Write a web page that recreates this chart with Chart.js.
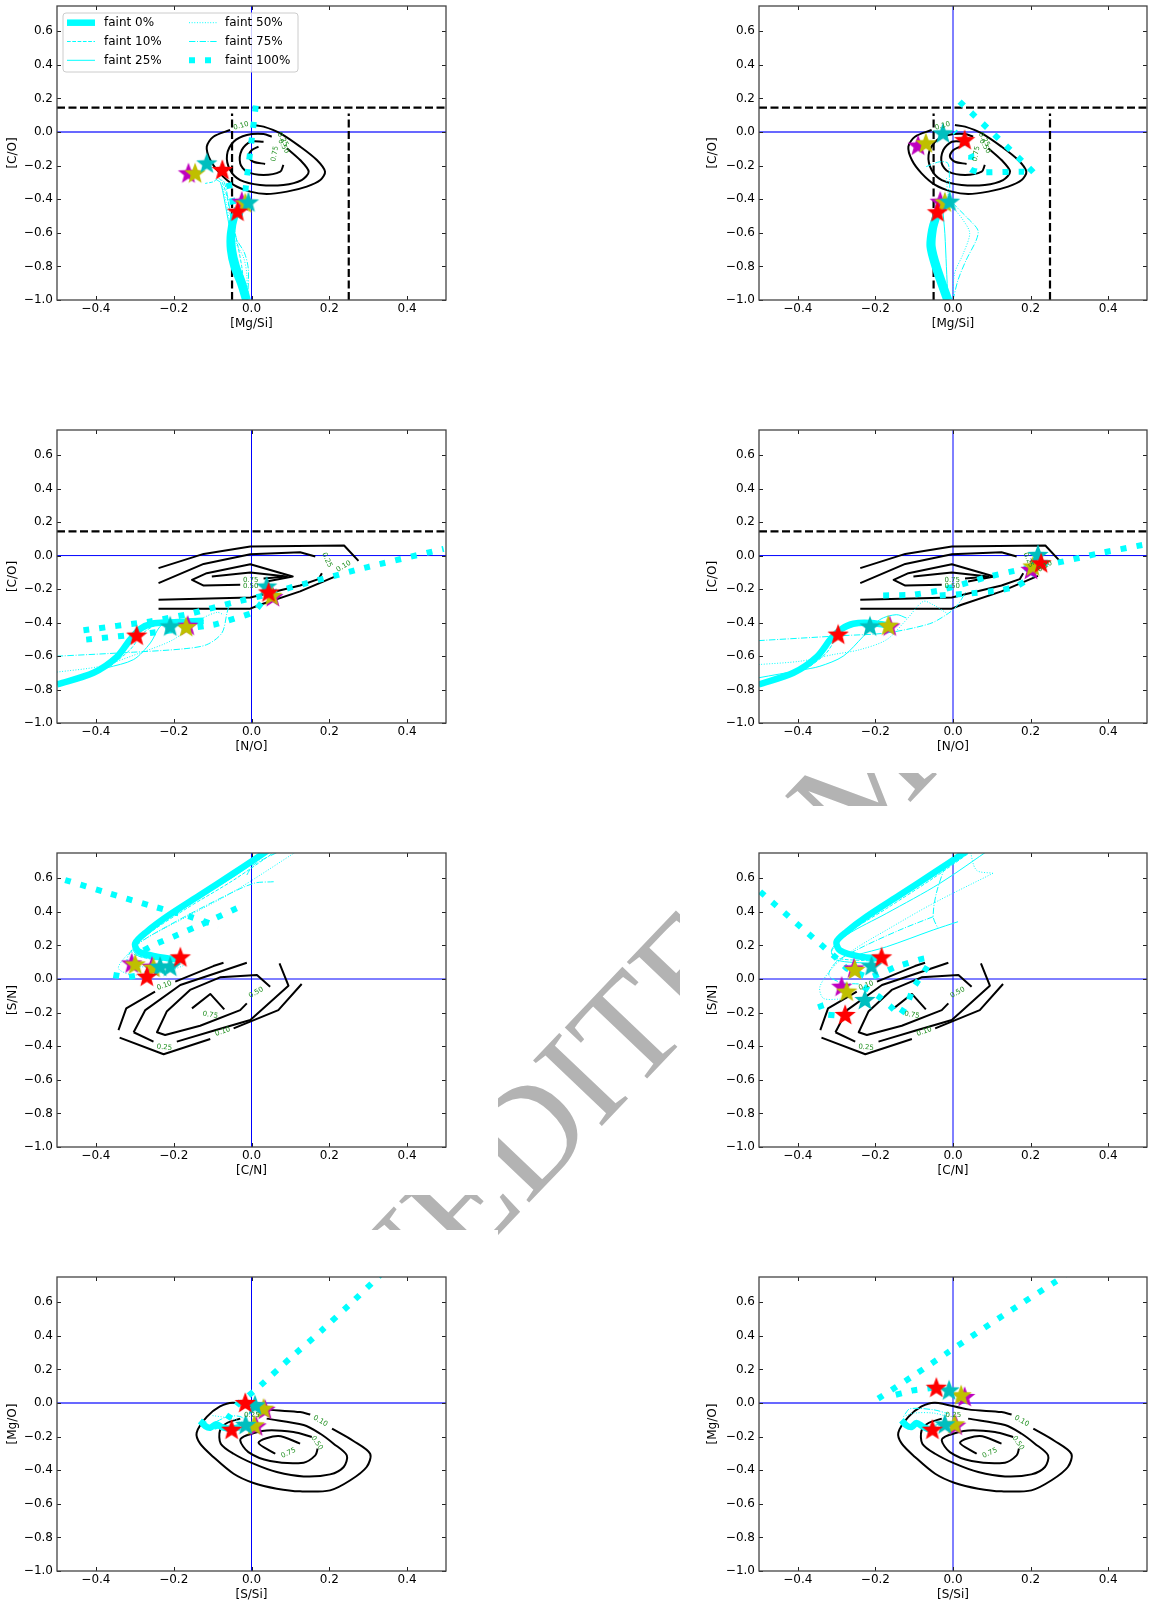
<!DOCTYPE html>
<html>
<head>
<meta charset="utf-8">
<script src="https://cdn.jsdelivr.net/npm/chart.js@4.4.0/dist/chart.umd.min.js"></script>
<style>
body{margin:0;width:1152px;height:1606px;position:relative;overflow:hidden;background:#fff}
#wm{position:absolute;left:873px;top:771px;transform:translate(-50%,-50%) rotate(-46.4deg);font:145px "Liberation Serif","DejaVu Serif",serif;line-height:1;color:#b3b3b3;white-space:nowrap;z-index:0}
.panel{position:absolute;background:#fff;z-index:1}
.panel canvas{display:block}
</style>
</head>
<body>
<div id="wm">UNEDITED MANUSCRIPT</div>
<script>
// ticks and legend
const xTicks = [-0.4, -0.2, 0.0, 0.2, 0.4];
const yTicks = [-1.0, -0.8, -0.6, -0.4, -0.2, 0.0, 0.2, 0.4, 0.6];
const legendLabels = ['faint 0%', 'faint 10%', 'faint 25%', 'faint 50%', 'faint 75%', 'faint 100%'];

// reference lines
const zeroV = [[0, -1], [0, 0.75]];
const zeroH = [[-0.5, 0], [0.5, 0]];
const coLimit = [[-0.5, 0.145], [0.5, 0.145]];
const mgsiLow = [[-0.05, -1], [-0.05, 0.11]];
const mgsiHigh = [[0.25, -1], [0.25, 0.11]];

// row 1 contours [Mg/Si] vs [C/O]
const mgsi_c10 = [[-0.055,0.012],[-0.098,-0.028],[-0.115,-0.087],[-0.106,-0.167],[-0.081,-0.246],[-0.046,-0.315],[-0.003,-0.355],[0.039,-0.369],[0.091,-0.355],[0.142,-0.325],[0.177,-0.286],[0.189,-0.236],[0.168,-0.167],[0.125,-0.087],[0.074,-0.008],[0.031,0.032],[0.005,0.042]];
const mgsi_c25 = [[0.052,-0.028],[0.031,-0.012],[-0.012,-0.018],[-0.046,-0.058],[-0.063,-0.137],[-0.055,-0.226],[-0.029,-0.286],[0.022,-0.315],[0.082,-0.315],[0.129,-0.286],[0.147,-0.236],[0.125,-0.167],[0.091,-0.097]];
const mgsi_c50 = [[0.031,-0.058],[-0.003,-0.058],[-0.025,-0.107],[-0.029,-0.187],[-0.012,-0.236],[0.031,-0.256],[0.074,-0.236],[0.082,-0.196]];
const mgsi_c75 = [[0.018,-0.087],[0.001,-0.107],[-0.008,-0.147],[0.005,-0.177],[0.035,-0.190]];
const mgsi_labels = [[-0.027,0.036,'0.10',15],[0.080,-0.045,'0.25',-60],[0.082,-0.085,'0.50',-60],[0.060,-0.130,'0.75',80]];

// row 2 contours [N/O] vs [C/O]
const no_c10a = [[-0.239,-0.075],[-0.123,0.010],[-0.003,0.054],[0.238,0.060],[0.275,-0.032]];
const no_c10b = [[-0.239,-0.317],[-0.003,-0.317],[0.022,-0.294],[0.125,-0.214],[0.219,-0.121]];
const no_c25a = [[-0.239,-0.165],[-0.123,-0.050],[-0.003,0.008],[0.125,0.020],[0.164,-0.006]];
const no_c25b = [[-0.239,-0.264],[-0.003,-0.250],[0.125,-0.179],[0.172,-0.141],[0.181,-0.105]];
const no_c50 = [[0.039,-0.155],[0.106,-0.125],[-0.003,-0.052],[-0.115,-0.105],[-0.153,-0.145],[-0.123,-0.179],[-0.029,-0.175]];
const no_c75 = [[-0.102,-0.125],[-0.003,-0.101],[0.091,-0.125],[0.031,-0.137]];
const no_labels = [[0.194,-0.026,'0.25',-65],[0.237,-0.065,'0.10',30],[-0.002,-0.150,'0.75',0],[-0.002,-0.182,'0.50',0]];

// row 3 contours [C/N] vs [S/N]
const cn_c10a = [[-0.342,-0.304],[-0.322,-0.175],[-0.248,-0.075]];
const cn_c10b = [[-0.196,-0.016],[-0.098,0.077],[-0.072,0.097]];
const cn_c10c = [[-0.339,-0.349],[-0.226,-0.448],[-0.106,-0.357]];
const cn_c10d = [[-0.046,-0.294],[0.069,-0.185],[0.129,-0.030]];
const cn_c25a = [[-0.303,-0.317],[-0.273,-0.185],[-0.183,-0.036],[-0.098,0.030],[-0.012,0.097]];
const cn_c25b = [[-0.303,-0.317],[-0.252,-0.373]];
const cn_c25c = [[-0.192,-0.373],[-0.098,-0.308],[-0.003,-0.244],[0.095,-0.040],[0.072,0.093]];
const cn_c50 = [[-0.012,-0.145],[-0.029,-0.185],[-0.132,-0.278],[-0.222,-0.333],[-0.243,-0.317],[-0.218,-0.194],[-0.158,-0.065],[-0.081,0.010],[0.014,0.024],[0.048,-0.046]];
const cn_c75 = [[-0.153,-0.175],[-0.106,-0.089],[-0.070,-0.181]];
const cn_labels = [[-0.224,-0.040,'0.10',20],[0.012,-0.081,'0.50',30],[-0.106,-0.214,'0.75',-10],[-0.074,-0.313,'0.10',20],[-0.224,-0.407,'0.25',-5]];

// row 4 contours [S/Si] vs [Mg/O]
const ssi_c10 = [[0.151,-0.069],[0.125,-0.054],[0.039,-0.038],[-0.046,0.002],[-0.081,-0.020],[-0.115,-0.083],[-0.141,-0.177],[-0.132,-0.242],[-0.098,-0.321],[-0.046,-0.421],[0.005,-0.476],[0.065,-0.510],[0.125,-0.526],[0.202,-0.520],[0.254,-0.460],[0.296,-0.381],[0.305,-0.302],[0.262,-0.226],[0.207,-0.153]];
const ssi_c25 = [[0.039,-0.093],[0.134,-0.131],[0.177,-0.183],[0.211,-0.242],[0.245,-0.312],[0.237,-0.381],[0.202,-0.425],[0.134,-0.437],[0.065,-0.411],[0.005,-0.361],[-0.046,-0.302],[-0.079,-0.242],[-0.081,-0.163],[-0.063,-0.119],[-0.029,-0.093]];
const ssi_c50 = [[0.170,-0.272],[0.164,-0.312],[0.134,-0.355],[0.048,-0.345],[-0.008,-0.292],[-0.029,-0.222],[-0.012,-0.192],[0.039,-0.163],[0.108,-0.173],[0.155,-0.202]];
const ssi_c75 = [[0.125,-0.242],[0.069,-0.196],[0.018,-0.236],[0.061,-0.302]];
const ssi_labels = [[0.001,-0.073,'0.25',0],[0.177,-0.107,'0.10',-30],[0.168,-0.238,'0.50',-55],[0.095,-0.298,'0.75',25]];

// panel 1
const p1_faint0 = [[-0.016,-1.0],[-0.029,-0.901],[-0.046,-0.802],[-0.055,-0.702],[-0.055,-0.603],[-0.046,-0.504],[-0.036,-0.454]];
const p1_faint0b = [[-0.010,-1.0],[-0.022,-0.90],[-0.038,-0.80],[-0.048,-0.70],[-0.050,-0.60],[-0.042,-0.50],[-0.030,-0.45]];
const p1_faint10 = [[-0.016,-1.0],[-0.025,-0.802],[-0.042,-0.603],[-0.055,-0.484],[-0.063,-0.385],[-0.076,-0.296],[-0.085,-0.276],[-0.098,-0.296],[-0.119,-0.306]];
const p1_faint25 = [[-0.020,-1.0],[-0.030,-0.85],[-0.045,-0.70],[-0.058,-0.55],[-0.070,-0.40],[-0.080,-0.30],[-0.090,-0.285]];
const p1_faint50 = [[-0.012,-1.0],[-0.012,-0.85],[-0.020,-0.75],[-0.040,-0.66],[-0.055,-0.55],[-0.065,-0.42],[-0.075,-0.32]];
const p1_faint75 = [[-0.010,-1.0],[-0.008,-0.82],[-0.018,-0.72],[-0.038,-0.64],[-0.052,-0.52],[-0.060,-0.40],[-0.070,-0.30],[-0.080,-0.275]];
const p1_faint100 = [[-0.059,-0.302],[-0.051,-0.385],[-0.044,-0.460],[-0.023,-0.504],[-0.016,-0.425],[-0.015,-0.335],[-0.006,-0.167],[0.003,0.002],[0.012,0.175]];
const p1_red = [[-0.075,-0.226],[-0.036,-0.474]];
const p1_cyan = [[-0.115,-0.187],[-0.008,-0.419]];
const p1_mag = [[-0.162,-0.246],[-0.025,-0.415]];
const p1_oli = [[-0.145,-0.246],[-0.016,-0.425]];

// panel 2
const p2_faint0 = [[-0.017,-1.0],[-0.047,-0.802],[-0.060,-0.683],[-0.056,-0.583],[-0.047,-0.514],[-0.039,-0.484]];
const p2_faint0b = [[-0.010,-1.0],[-0.040,-0.80],[-0.053,-0.68],[-0.050,-0.58],[-0.042,-0.51]];
const p2_faint10 = [[-0.015,-1.0],[-0.041,-0.802],[-0.051,-0.643],[-0.043,-0.484],[-0.030,-0.385]];
const p2_faint25 = [[-0.013,-1.0],[-0.017,-0.802],[-0.021,-0.603],[-0.026,-0.446],[-0.021,-0.365]];
const p2_faint50 = [[0,-1],[0.004,-0.843],[0.026,-0.726],[0.043,-0.603],[0.026,-0.524],[0,-0.444],[-0.013,-0.365],[-0.017,-0.266]];
const p2_faint75 = [[0,-1.0],[0.013,-0.881],[0.034,-0.762],[0.060,-0.643],[0.064,-0.583],[0.034,-0.504],[-0.004,-0.405],[-0.009,-0.286],[-0.013,-0.187],[-0.034,-0.177],[-0.069,-0.206]];
const p2_faint100 = [[0.017,0.181],[0.208,-0.242],[0.180,-0.236],[0.070,-0.240],[0.045,-0.222],[0.047,-0.137],[0.026,-0.048],[0.004,0.002]];
const p2_red = [[0.030,-0.048],[-0.040,-0.478]];
const p2_cyan = [[-0.026,-0.008],[-0.009,-0.415]];
const p2_mag = [[-0.090,-0.081],[-0.033,-0.415]];
const p2_oli = [[-0.070,-0.067],[-0.021,-0.419]];

// panel 3
const p3_faint0 = [[-0.500,-0.770],[-0.406,-0.700],[-0.346,-0.605],[-0.312,-0.502],[-0.286,-0.438],[-0.256,-0.407],[-0.209,-0.399],[-0.123,-0.389]];
const p3_faint10 = [[-0.363,-0.661],[-0.312,-0.562],[-0.278,-0.462],[-0.243,-0.413],[-0.201,-0.403]];
const p3_faint25 = [[-0.372,-0.671],[-0.303,-0.621],[-0.260,-0.522],[-0.235,-0.423],[-0.209,-0.393],[-0.123,-0.389]];
const p3_faint50 = [[-0.5,-0.696],[-0.389,-0.661],[-0.286,-0.581],[-0.201,-0.502],[-0.132,-0.383],[-0.089,-0.339],[-0.072,-0.353]];
const p3_faint75 = [[-0.5,-0.601],[-0.303,-0.577],[-0.175,-0.557],[-0.115,-0.532],[-0.076,-0.462],[-0.063,-0.343],[-0.055,-0.274]];
const p3_faint100a = [[-0.432,-0.446],[-0.260,-0.393],[-0.158,-0.347],[-0.046,-0.280],[0.039,-0.234],[0.095,-0.194],[0.296,-0.070],[0.494,0.040]];
const p3_faint100b = [[-0.425,-0.502],[-0.260,-0.462],[-0.098,-0.413],[0.005,-0.339],[0.039,-0.244]];
const p3_red = [[-0.295,-0.478],[0.044,-0.220]];
const p3_cyan = [[-0.209,-0.423],[0.039,-0.185]];
const p3_mag = [[-0.164,-0.419],[0.055,-0.248]];
const p3_oli = [[-0.168,-0.427],[0.052,-0.240]];

// panel 4
const p4_faint0 = [[-0.501,-0.770],[-0.411,-0.700],[-0.351,-0.605],[-0.313,-0.492],[-0.287,-0.438],[-0.257,-0.407],[-0.210,-0.403],[-0.154,-0.423]];
const p4_faint10 = [[-0.368,-0.661],[-0.326,-0.581],[-0.291,-0.462],[-0.249,-0.413]];
const p4_faint25 = [[-0.501,-0.730],[-0.394,-0.685],[-0.343,-0.661],[-0.283,-0.601],[-0.231,-0.482],[-0.189,-0.383],[-0.146,-0.353],[-0.120,-0.373]];
const p4_faint50 = [[-0.501,-0.651],[-0.394,-0.631],[-0.308,-0.591],[-0.240,-0.562],[-0.171,-0.502],[-0.120,-0.383],[-0.077,-0.274],[-0.051,-0.294],[-0.017,-0.343]];
const p4_faint75 = [[-0.501,-0.508],[-0.283,-0.478],[-0.171,-0.462],[-0.060,-0.407],[-0.017,-0.353],[0.009,-0.304],[0.034,-0.214]];
const p4_faint100a = [[-0.180,-0.238],[-0.103,-0.234],[-0.034,-0.208],[0.034,-0.165],[0.086,-0.129],[0.163,-0.089],[0.189,-0.075]];
const p4_faint100b = [[-0.034,-0.238],[0.034,-0.228],[0.120,-0.208],[0.163,-0.185],[0.193,-0.141],[0.231,-0.046],[0.270,-0.042],[0.377,0.014],[0.488,0.063]];
const p4_red = [[-0.296,-0.472],[0.227,-0.046]];
const p4_cyan = [[-0.214,-0.423],[0.219,0.004]];
const p4_mag = [[-0.163,-0.423],[0.201,-0.085]];
const p4_oli = [[-0.167,-0.419],[0.206,-0.065]];

// panel 5
const p5_faint0 = [[0.055,0.79],[0.031,0.748],[-0.046,0.629],[-0.132,0.500],[-0.218,0.371],[-0.269,0.282],[-0.299,0.212],[-0.290,0.163],[-0.243,0.133],[-0.179,0.113]];
const p5_faint10 = [[0.074,0.78],[-0.046,0.589],[-0.166,0.421],[-0.269,0.262],[-0.308,0.163],[-0.269,0.123],[-0.179,0.103]];
const p5_faint25 = [[0.060,0.78],[-0.046,0.609],[-0.166,0.440],[-0.269,0.282],[-0.303,0.173],[-0.286,0.133],[-0.175,0.109]];
const p5_faint50 = [[0.130,0.78],[-0.046,0.520],[-0.166,0.371],[-0.278,0.232],[-0.320,0.143],[-0.342,0.063],[-0.303,0.024],[-0.218,0.044],[-0.171,0.083]];
const p5_faint75a = [[0.057,0.579],[0.005,0.569],[-0.089,0.470],[-0.218,0.312],[-0.295,0.202],[-0.320,0.113],[-0.286,0.073],[-0.183,0.093]];
const p5_faint75b = [[-0.012,0.619],[0.005,0.679],[0.090,0.78]];
const p5_faint100a = [[-0.479,0.589],[-0.372,0.514],[-0.265,0.440],[-0.158,0.371],[-0.085,0.315]];
const p5_faint100b = [[-0.038,0.421],[-0.132,0.321],[-0.201,0.252],[-0.243,0.212],[-0.290,0.155]];
const p5_faint100c = [[-0.355,0.024],[-0.320,0.010],[-0.270,0.030]];
const p5_red = [[-0.269,0.014],[-0.183,0.129]];
const p5_cyan = [[-0.235,0.073],[-0.209,0.073]];
const p5_mag = [[-0.308,0.093],[-0.256,0.073]];
const p5_oli = [[-0.299,0.087],[-0.252,0.067]];

// panel 6
const p6_faint0 = [[0.045,0.78],[0.026,0.748],[-0.051,0.629],[-0.137,0.500],[-0.223,0.371],[-0.274,0.282],[-0.300,0.222],[-0.291,0.169],[-0.240,0.133],[-0.184,0.123]];
const p6_faint10 = [[0.060,0.78],[-0.051,0.600],[-0.171,0.420],[-0.274,0.268],[-0.313,0.165],[-0.300,0.125],[-0.230,0.110],[-0.180,0.105]];
const p6_faint25a = [[0.100,0.78],[-0.034,0.569],[-0.171,0.391],[-0.274,0.262],[-0.313,0.173],[-0.300,0.113],[-0.206,0.093]];
const p6_faint25b = [[0.013,0.341],[-0.051,0.292],[-0.171,0.192],[-0.249,0.143]];
const p6_faint50a = [[0.103,0.629],[0.060,0.649],[0.043,0.78]];
const p6_faint50b = [[0.103,0.629],[-0.051,0.450],[-0.171,0.292],[-0.257,0.173],[-0.308,0.073],[-0.343,-0.046],[-0.334,-0.115],[-0.290,-0.120]];
const p6_faint75a = [[-0.021,0.669],[-0.043,0.510],[-0.051,0.371],[-0.039,0.302]];
const p6_faint75b = [[-0.051,0.371],[-0.137,0.292],[-0.240,0.183],[-0.300,0.103],[-0.320,0.024],[-0.290,-0.020],[-0.240,-0.030]];
const p6_faint100a = [[-0.497,0.520],[-0.300,0.123],[-0.274,0.063],[-0.214,0.010],[-0.146,0.073],[-0.073,0.123],[-0.064,0.083],[-0.103,-0.056],[-0.116,-0.139],[-0.137,-0.214],[-0.163,-0.159],[-0.193,-0.101],[-0.231,-0.046]];
const p6_faint100b = [[-0.343,-0.145],[-0.333,-0.208],[-0.296,-0.218]];
const p6_red = [[-0.184,0.129],[-0.278,-0.214]];
const p6_cyan = [[-0.210,0.077],[-0.227,-0.125]];
const p6_mag = [[-0.255,0.063],[-0.287,-0.046]];
const p6_oli = [[-0.253,0.054],[-0.274,-0.075]];

// panel 7
const p7_faint0 = [[-0.132,-0.107],[-0.119,-0.137],[-0.106,-0.147],[-0.091,-0.127],[-0.076,-0.143],[-0.055,-0.153],[-0.029,-0.143]];
const p7_faint10 = [[-0.060,-0.150],[-0.030,-0.135],[0.000,-0.135]];
const p7_faint25 = [[-0.050,-0.140],[-0.020,-0.125],[0.010,-0.130]];
const p7_faint50 = [[-0.100,-0.075],[-0.070,-0.085],[-0.040,-0.100],[-0.020,-0.120]];
const p7_faint75 = [[-0.090,-0.110],[-0.060,-0.080],[-0.030,-0.080],[-0.010,-0.110]];
const p7_faint100 = [[-0.132,-0.107],[-0.106,-0.147],[-0.070,-0.120],[-0.055,-0.073],[-0.038,-0.014],[0.015,0.087],[0.098,0.264],[0.179,0.429],[0.260,0.603],[0.330,0.760]];
const p7_red = [[-0.016,0.0],[-0.051,-0.159]];
const p7_cyan = [[0.009,-0.014],[-0.015,-0.130]];
const p7_mag = [[0.035,-0.040],[0.012,-0.139]];
const p7_oli = [[0.031,-0.034],[0.007,-0.133]];

// panel 8
const p8_faint0 = [[-0.133,-0.103],[-0.120,-0.133],[-0.107,-0.143],[-0.094,-0.119],[-0.079,-0.139],[-0.060,-0.159]];
const p8_faint10 = [[-0.065,-0.150],[-0.035,-0.135],[-0.005,-0.140]];
const p8_faint25 = [[-0.060,-0.140],[-0.030,-0.125],[0.000,-0.130]];
const p8_faint50 = [[-0.128,-0.080],[-0.100,-0.060],[-0.050,-0.060],[-0.015,-0.080]];
const p8_faint75 = [[-0.124,-0.067],[-0.111,-0.034],[-0.051,-0.040],[-0.013,-0.063]];
const p8_faint100a = [[-0.051,0.091],[-0.103,0.075],[-0.163,0.040]];
const p8_faint100b = [[-0.193,0.026],[-0.103,0.161],[-0.010,0.306],[0.081,0.448],[0.173,0.587],[0.267,0.726],[0.290,0.760]];
const p8_red = [[-0.043,0.091],[-0.053,-0.159]];
const p8_cyan = [[-0.010,0.075],[-0.021,-0.127]];
const p8_mag = [[0.030,0.036],[0.007,-0.135]];
const p8_oli = [[0.021,0.046],[0.004,-0.127]];

// styles
const CYAN = '#00ffff';
const STYLE = {
  f0: {w: 6.5, dash: []},
  f10: {w: 1, dash: [3.7, 1.6]},
  f25: {w: 1, dash: []},
  f50: {w: 1, dash: [1, 1.65]},
  f75: {w: 1, dash: [6.4, 1.6, 1, 1.6]},
  f100: {w: 6, dash: [6, 10]}
};
const STAR_COLORS = {red: '#ff0000', cyan: '#00bfbf', oli: '#bfbf00', mag: '#bf00bf'};
const FONT = {family: '"DejaVu Sans", sans-serif', size: 12};

const COLS = [
  {left: 0, width: 498, ax0: 57, ax1: 446, ypad: 5.8},
  {left: 680, width: 472, ax0: 759, ax1: 1147, ypad: 26}
];
const ROWS = [
  {top: 0, height: 385, ay0: 6, ay1: 300},
  {top: 385, height: 388, ay0: 430, ay1: 723},
  {top: 806, height: 389, ay0: 853, ay1: 1147},
  {top: 1230, height: 376, ay0: 1277, ay1: 1571}
];

const panels = [
  {col:0,row:0,xl:'[Mg/Si]',yl:'[C/O]',cont:[mgsi_c10,mgsi_c25,mgsi_c50,mgsi_c75],smooth:true,labels:mgsi_labels,
   dashed:[coLimit,mgsiLow,mgsiHigh],legend:true,
   f0:[p1_faint0,p1_faint0b],f10:[p1_faint10],f25:[p1_faint25],f50:[p1_faint50],f75:[p1_faint75],f100:[p1_faint100],
   red:p1_red,cyan:p1_cyan,mag:p1_mag,oli:p1_oli},
  {col:1,row:0,xl:'[Mg/Si]',yl:'[C/O]',cont:[mgsi_c10,mgsi_c25,mgsi_c50,mgsi_c75],smooth:true,labels:mgsi_labels,
   dashed:[coLimit,mgsiLow,mgsiHigh],
   f0:[p2_faint0,p2_faint0b],f10:[p2_faint10],f25:[p2_faint25],f50:[p2_faint50],f75:[p2_faint75],f100:[p2_faint100],
   red:p2_red,cyan:p2_cyan,mag:p2_mag,oli:p2_oli},
  {col:0,row:1,xl:'[N/O]',yl:'[C/O]',cont:[no_c10a,no_c10b,no_c25a,no_c25b,no_c50,no_c75],labels:no_labels,
   dashed:[coLimit],
   f0:[p3_faint0],f10:[p3_faint10],f25:[p3_faint25],f50:[p3_faint50],f75:[p3_faint75],f100:[p3_faint100a,p3_faint100b],
   red:p3_red,cyan:p3_cyan,mag:p3_mag,oli:p3_oli},
  {col:1,row:1,xl:'[N/O]',yl:'[C/O]',cont:[no_c10a,no_c10b,no_c25a,no_c25b,no_c50,no_c75],labels:no_labels,
   dashed:[coLimit],
   f0:[p4_faint0],f10:[p4_faint10],f25:[p4_faint25],f50:[p4_faint50],f75:[p4_faint75],f100:[p4_faint100a,p4_faint100b],
   red:p4_red,cyan:p4_cyan,mag:p4_mag,oli:p4_oli},
  {col:0,row:2,xl:'[C/N]',yl:'[S/N]',cont:[cn_c10a,cn_c10b,cn_c10c,cn_c10d,cn_c25a,cn_c25b,cn_c25c,cn_c50,cn_c75],labels:cn_labels,
   dashed:[],
   f0:[p5_faint0],f10:[p5_faint10],f25:[p5_faint25],f50:[p5_faint50],f75:[p5_faint75a,p5_faint75b],f100:[p5_faint100a,p5_faint100b,p5_faint100c],
   red:p5_red,cyan:p5_cyan,mag:p5_mag,oli:p5_oli},
  {col:1,row:2,xl:'[C/N]',yl:'[S/N]',cont:[cn_c10a,cn_c10b,cn_c10c,cn_c10d,cn_c25a,cn_c25b,cn_c25c,cn_c50,cn_c75],labels:cn_labels,
   dashed:[],
   f0:[p6_faint0],f10:[p6_faint10],f25:[p6_faint25a,p6_faint25b],f50:[p6_faint50a,p6_faint50b],f75:[p6_faint75a,p6_faint75b],f100:[p6_faint100a,p6_faint100b],
   red:p6_red,cyan:p6_cyan,mag:p6_mag,oli:p6_oli},
  {col:0,row:3,xl:'[S/Si]',yl:'[Mg/O]',cont:[ssi_c10,ssi_c25,ssi_c50,ssi_c75],smooth:true,labels:ssi_labels,
   dashed:[],
   f0:[p7_faint0],f10:[p7_faint10],f25:[p7_faint25],f50:[p7_faint50],f75:[p7_faint75],f100:[p7_faint100],
   red:p7_red,cyan:p7_cyan,mag:p7_mag,oli:p7_oli},
  {col:1,row:3,xl:'[S/Si]',yl:'[Mg/O]',cont:[ssi_c10,ssi_c25,ssi_c50,ssi_c75],smooth:true,labels:ssi_labels,
   dashed:[],
   f0:[p8_faint0],f10:[p8_faint10],f25:[p8_faint25],f50:[p8_faint50],f75:[p8_faint75],f100:[p8_faint100a,p8_faint100b],
   red:p8_red,cyan:p8_cyan,mag:p8_mag,oli:p8_oli}
];

function starImg(color) {
  const c = document.createElement('canvas');
  c.width = c.height = 26;
  const g = c.getContext('2d');
  g.beginPath();
  for (let k = 0; k < 10; k++) {
    const a = -Math.PI / 2 + k * Math.PI / 5;
    const r = k % 2 ? 4.7 : 11.2;
    g.lineTo(13 + r * Math.cos(a), 13.5 + r * Math.sin(a));
  }
  g.closePath();
  g.fillStyle = color;
  g.fill();
  return c;
}
const STARS = {};
Object.keys(STAR_COLORS).forEach(k => STARS[k] = starImg(STAR_COLORS[k]));

function lineSet(pts, color, width, dash, order, tension) {
  return {
    data: pts.map(p => ({x: p[0], y: p[1]})),
    showLine: true, borderColor: color, borderWidth: width, borderDash: dash,
    borderCapStyle: 'butt', borderJoinStyle: 'round',
    pointRadius: 0, pointHoverRadius: 0, fill: false, tension: tension, order: order
  };
}

const fmt = v => (v < 0 ? '\u2212' : '') + Math.abs(v).toFixed(1);

// spines and inward ticks on all four sides
const framePlugin = {
  id: 'frame',
  afterDatasetsDraw(chart) {
    const {ctx, chartArea: a, scales: {x, y}} = chart;
    ctx.save();
    ctx.strokeStyle = '#222';
    ctx.lineWidth = 1;
    ctx.beginPath();
    xTicks.forEach(v => {
      const px = Math.round(x.getPixelForValue(v)) + 0.5;
      ctx.moveTo(px, a.bottom); ctx.lineTo(px, a.bottom - 4);
      ctx.moveTo(px, a.top); ctx.lineTo(px, a.top + 4);
    });
    yTicks.forEach(v => {
      const py = Math.round(y.getPixelForValue(v)) + 0.5;
      ctx.moveTo(a.left, py); ctx.lineTo(a.left + 4, py);
      ctx.moveTo(a.right, py); ctx.lineTo(a.right - 4, py);
    });
    ctx.stroke();
    ctx.strokeStyle = '#444';
    ctx.lineWidth = 1.3;
    ctx.strokeRect(a.left, a.top, a.right - a.left, a.bottom - a.top);
    ctx.restore();
  }
};

// green contour level labels
const contourLabels = {
  id: 'contourLabels',
  afterDatasetsDraw(chart, args, opts) {
    const {ctx, scales: {x, y}} = chart;
    ctx.save();
    ctx.fillStyle = '#1f8f1f';
    ctx.font = '7px "DejaVu Sans"';
    ctx.textAlign = 'center';
    ctx.textBaseline = 'middle';
    (opts.items || []).forEach(([vx, vy, t, rot]) => {
      ctx.save();
      ctx.translate(x.getPixelForValue(vx), y.getPixelForValue(vy));
      ctx.rotate(-rot * Math.PI / 180);
      ctx.fillText(t, 0, 0);
      ctx.restore();
    });
    ctx.restore();
  }
};

// legend box inside the first panel
const legendBox = {
  id: 'legendBox',
  afterDraw(chart, args, opts) {
    if (!opts.show) return;
    const {ctx, chartArea: a} = chart;
    const bx = a.left + 6, by = a.top + 7, bw = 235, bh = 59;
    ctx.save();
    ctx.beginPath();
    ctx.roundRect(bx, by, bw, bh, 3);
    ctx.fillStyle = 'rgba(255,255,255,0.8)';
    ctx.fill();
    ctx.strokeStyle = '#cccccc';
    ctx.lineWidth = 1;
    ctx.stroke();
    const keys = ['f0', 'f10', 'f25', 'f50', 'f75', 'f100'];
    ctx.font = '12px "DejaVu Sans"';
    ctx.textBaseline = 'middle';
    keys.forEach((k, i) => {
      const col = Math.floor(i / 3), rowi = i % 3;
      const lx = bx + (col ? 126 : 4), ly = by + 9.7 + rowi * 18.8;
      ctx.beginPath();
      ctx.setLineDash(STYLE[k].dash);
      ctx.lineCap = 'butt';
      ctx.lineWidth = STYLE[k].w;
      ctx.strokeStyle = CYAN;
      ctx.moveTo(lx, ly); ctx.lineTo(lx + 28, ly);
      ctx.stroke();
      ctx.setLineDash([]);
      ctx.fillStyle = '#000';
      ctx.fillText(legendLabels[i], lx + (col ? 36 : 37), ly + 0.5);
    });
    ctx.restore();
  }
};

function build(p) {
  const col = COLS[p.col], row = ROWS[p.row];
  const div = document.createElement('div');
  div.className = 'panel';
  div.style.left = col.left + 'px';
  div.style.top = row.top + 'px';
  div.style.width = col.width + 'px';
  div.style.height = row.height + 'px';
  const cv = document.createElement('canvas');
  cv.width = col.width;
  cv.height = row.height;
  div.appendChild(cv);
  document.body.appendChild(div);

  const yw = col.ax0 - col.left;
  const xh = row.top + row.height - row.ay1;
  const thinH = (p.row === 0 || p.row === 3);

  const datasets = [];
  // stars on top: red, cyan, olive, magenta
  ['red', 'cyan', 'oli', 'mag'].forEach(k => {
    datasets.push({
      data: p[k].map(q => ({x: q[0], y: q[1]})),
      showLine: false, pointStyle: STARS[k], pointRadius: 11, pointHoverRadius: 11,
      borderWidth: 0, order: 0
    });
  });
  ['f100', 'f0', 'f10', 'f25', 'f50', 'f75'].forEach(k => {
    p[k].forEach(seg => datasets.push(lineSet(seg, CYAN, STYLE[k].w, STYLE[k].dash, 1, k === 'f100' ? 0.1 : 0.3)));
  });
  p.cont.forEach(c => datasets.push(lineSet(c, '#000', 2, [], 2, p.smooth ? 0.3 : 0)));
  p.dashed.forEach(d => datasets.push(lineSet(d, '#000', 2.2, [8, 3.5], 3, 0)));
  datasets.push(lineSet(zeroV, '#0000ff', 1, [], 4, 0));
  datasets.push(lineSet(zeroH, thinH ? 'rgba(40,40,255,0.7)' : '#0000ff', thinH ? 1.8 : 1, [], 4, 0));

  new Chart(cv, {
    type: 'scatter',
    data: {datasets},
    options: {
      responsive: false,
      animation: false,
      events: [],
      layout: {autoPadding: false, padding: {top: row.ay0 - row.top, right: col.left + col.width - col.ax1, left: 0, bottom: 0}},
      plugins: {
        legend: {display: false},
        tooltip: {enabled: false},
        contourLabels: {items: p.labels},
        legendBox: {show: !!p.legend}
      },
      scales: {
        x: {
          type: 'linear', min: -0.5, max: 0.5,
          grid: {display: false, drawTicks: false}, border: {display: false},
          afterBuildTicks: s => { s.ticks = xTicks.map(v => ({value: v})); },
          afterFit: s => { s.height = xh; s.paddingLeft = 0; s.paddingRight = 0; },
          ticks: {font: FONT, color: '#000', padding: 2, maxRotation: 0, autoSkip: false, callback: fmt},
          title: {display: true, text: p.xl, font: FONT, color: '#000', padding: {top: 0, bottom: xh - 24 - 7.2}}
        },
        y: {
          type: 'linear', min: -1.0, max: 0.75,
          grid: {display: false, drawTicks: false}, border: {display: false},
          afterBuildTicks: s => { s.ticks = yTicks.map(v => ({value: v})); },
          afterFit: s => { s.width = yw; s.paddingTop = 0; s.paddingBottom = 0; },
          ticks: {font: FONT, color: '#000', padding: 4, autoSkip: false, callback: fmt},
          title: {display: true, text: p.yl, font: FONT, color: '#000', padding: {top: col.ypad, bottom: 0}}
        }
      }
    },
    plugins: [framePlugin, contourLabels, legendBox]
  });
}

panels.forEach(build);
</script>
</body>
</html>
